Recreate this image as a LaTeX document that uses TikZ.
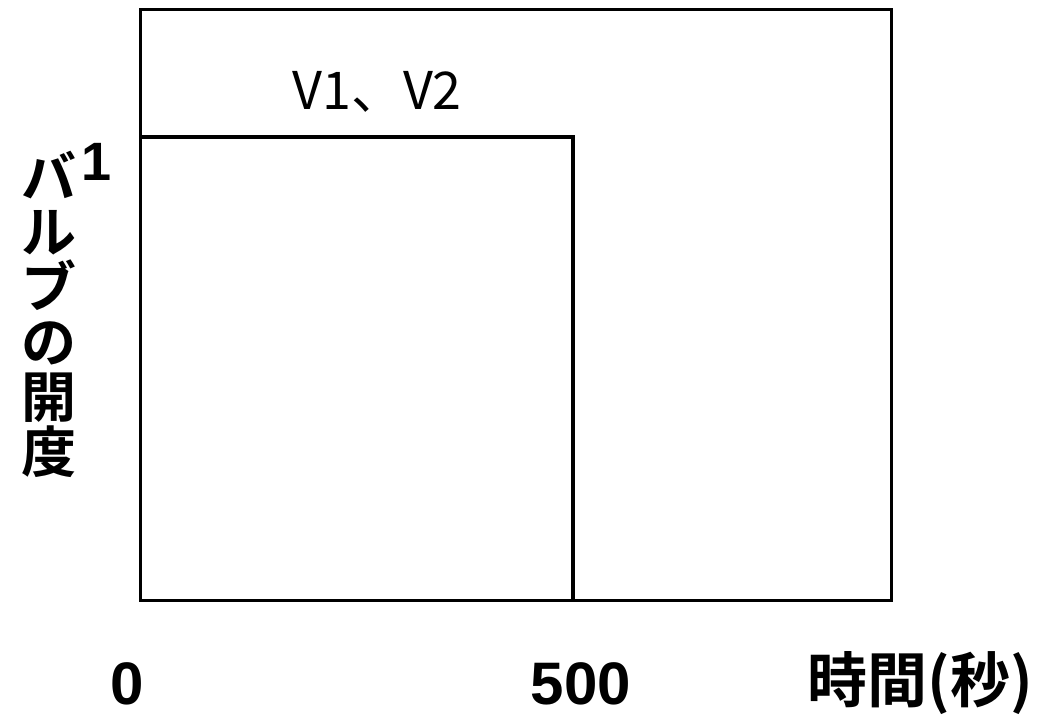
\documentclass[tikz,border=0pt]{standalone}
\usepackage{fontspec}
\setmainfont{Liberation Sans}[BoldFont={Liberation Sans Bold}]
\newfontfamily\jpfont{Noto Sans CJK JP}
\newfontfamily\jpbold{Noto Sans CJK JP Bold}
\newfontfamily\arialbold{Liberation Sans Bold}
\begin{document}
\begin{tikzpicture}[x=1pt,y=-1pt,
  frame/.style={line width=3pt},
  stepline/.style={line width=4pt},
  numlab/.style={font=\fontsize{60}{60}\selectfont\arialbold, inner sep=0pt, anchor=base},
  jplab/.style={font=\fontsize{55}{55}\selectfont\jpbold, inner sep=0pt},
]
\useasboundingbox (0,0) rectangle (1045,717);
\draw[frame] (140,9.5) rectangle (891.5,600);
\coordinate (s0) at (140,137);
\coordinate (s1) at (572.5,137);
\coordinate (s2) at (572.5,600);
\draw[stepline] (s0) -- (s1) -- (s2);
\node[font=\fontsize{52}{52}\selectfont\jpfont, inner sep=0pt] (lv) at (377,92) {V1、V2};
\node[font=\fontsize{54}{54}\selectfont\arialbold, inner sep=0pt, anchor=base] (one) at (97,180) {1};
\node[jplab, align=center] (ylab) at (49,314) {\baselineskip=55pt バ\\ル\\ブ\\の\\開\\度};
\node[numlab] (x0) at (127,704) {0};
\node[numlab] (x500) at (581,704) {500};
\node[jplab, font=\fontsize{60}{60}\selectfont\jpbold] (xlab) at (920,683) {時間(秒)};
\end{tikzpicture}
\end{document}
